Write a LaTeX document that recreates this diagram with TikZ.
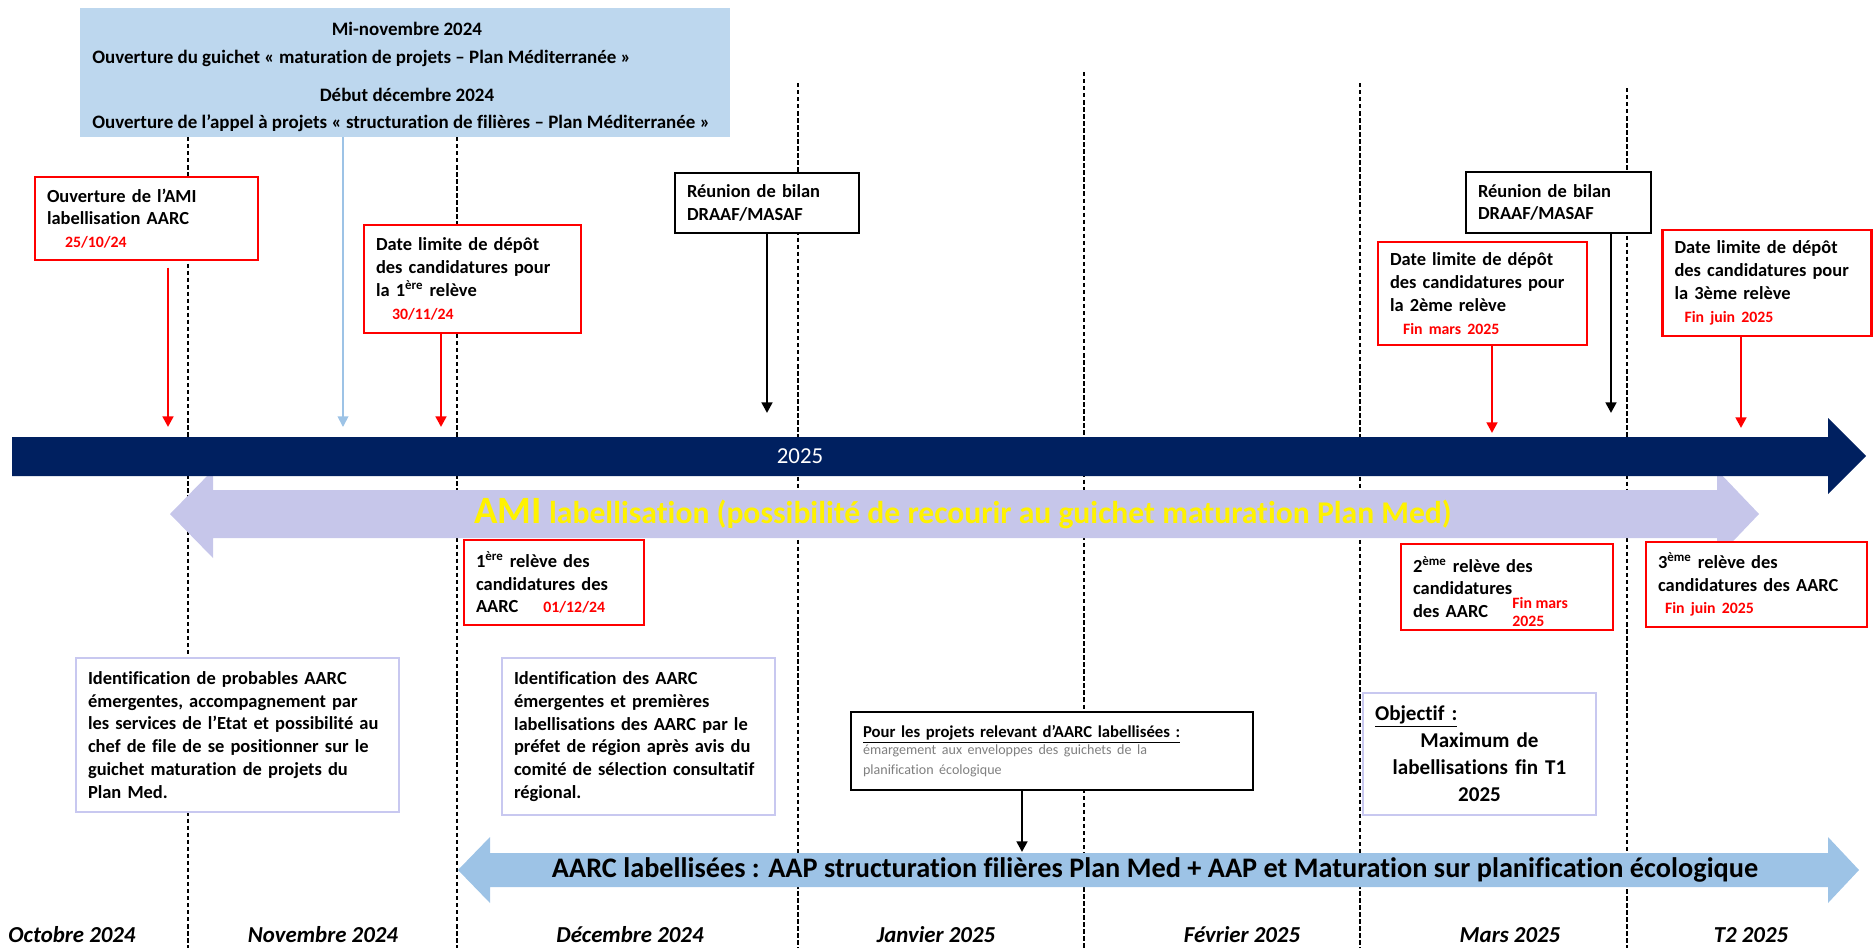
\documentclass[tikz,border=0pt]{standalone}
\usepackage{fontspec}
\setmainfont{Carlito}[Ligatures={NoCommon,NoContextual},Contextuals={NoAlternate}]
\usetikzlibrary{arrows.meta}
\definecolor{navy}{HTML}{002060}
\definecolor{lav}{HTML}{C6C6EA}
\definecolor{lavline}{HTML}{C8C8F0}
\definecolor{skyfill}{HTML}{BDD7EE}
\definecolor{skyarrow}{HTML}{9DC3E6}
\newcommand{\rdate}[1]{{\fontsize{9}{11}\selectfont\color{red}#1}}
\begin{document}
\begin{tikzpicture}[x=0.02cm, y=-0.02cm, >={Triangle[length=6pt,width=6pt]},
  every node/.style={font=\fontsize{10.5}{13}\selectfont\bfseries},
  rbox/.style={draw=red,line width=0.8pt,fill=white,align=left,inner xsep=0.24cm,inner ysep=0pt},
  rboxb/.style={rbox,line width=1.6pt},
  kbox/.style={rbox,draw=black},
  lbox/.style={rbox,draw=lavline,line width=1.3pt},
  ban/.style={font=\fontsize{10.8}{13}\selectfont\bfseries},
  mon/.style={font=\fontsize{13}{15}\selectfont\bfseries\itshape},
  dline/.style={dash pattern=on 2.5pt off 1.5pt,line width=0.6pt},
  rarr/.style={->,red,line width=1.5pt},
  karr/.style={->,black,line width=1.5pt}]
\useasboundingbox (0,0) rectangle (1874,948);
% month separators
\foreach \x/\t in {188/137,457/137,798/83,1084/72,1360/83,1627/88} \draw[dline] (\x,\t) -- (\x,948);
% top banner
\node[fill=skyfill,minimum width=13cm,minimum height=2.58cm,inner sep=0pt] (top) at (405,72.5) {};
\node[ban] (minov) at (407,29) {Mi-novembre 2024};
\node[ban,anchor=west,inner xsep=0pt] (guich) at (92,58) {Ouverture du guichet « maturation de projets – Plan Méditerranée »};
\node[ban] (debdec) at (407,95) {Début décembre 2024};
\node[ban,anchor=west,inner xsep=0pt] (aap) at (92,123) {Ouverture de l’appel à projets « structuration de filières – Plan Méditerranée »};
% bands
\fill[lav] (170,514) -- (213,470) -- (213,490) -- (1717,490) -- (1717,470) -- (1759,514) -- (1717,558) -- (1717,538) -- (213,538) -- (213,558) -- cycle;
\fill[navy] (12,437) -- (1828,437) -- (1828,418) -- (1866,456) -- (1828,494) -- (1828,476) -- (12,476) -- cycle;
\fill[skyarrow] (458,870) -- (490,837) -- (490,853) -- (1828,853) -- (1828,837) -- (1859,870) -- (1828,903) -- (1828,887) -- (490,887) -- (490,903) -- cycle;
\node[font=\fontsize{13}{15}\selectfont,text=white] (yr) at (800,456) {2025};
\node[font=\fontsize{18}{19}\selectfont\bfseries,text=yellow] (amiband) at (963,514) {{\fontsize{22}{23}\selectfont AMI} labellisation (possibilité de recourir au guichet maturation Plan Med)};
\node[font=\fontsize{16.1}{17}\selectfont\bfseries] (labband) at (1155,870) {AARC labellisées : AAP structuration filières Plan Med + AAP et Maturation sur planification écologique};
% dates above the line
\node[rbox,text width=3.98cm,minimum height=1.66cm] (open) at (146.5,218.5) {Ouverture de l’AMI\\labellisation AARC\\\hspace*{0.36cm}\rdate{25/10/24}};
\node[rboxb,text width=3.86cm,minimum height=2.16cm] (dl1) at (472.5,279) {Date limite de dépôt\\des candidatures pour\\la 1\textsuperscript{ère} relève\\\hspace*{0.32cm}\rdate{30/11/24}};
\node[kbox,text width=3.20cm,minimum height=1.2cm] (bil1) at (767,203) {Réunion de bilan\\DRAAF/MASAF};
\node[kbox,text width=3.22cm,minimum height=1.22cm] (bil2) at (1558.5,202.5) {Réunion de bilan\\DRAAF/MASAF};
\node[rboxb,text width=3.70cm,minimum height=2.06cm] (dl2) at (1482.5,293.5) {Date limite de dépôt\\des candidatures pour\\la 2ème relève\\\hspace*{0.26cm}\rdate{Fin mars 2025}};
\node[rboxb,text width=3.70cm,minimum height=2.12cm] (dl3) at (1767,283) {Date limite de dépôt\\des candidatures pour\\la 3ème relève\\\hspace*{0.2cm}\rdate{Fin juin 2025}};
\coordinate (e1) at (168,427);
\coordinate (e2) at (343,427);
\coordinate (e3) at (441,427);
\coordinate (e4) at (767,413);
\coordinate (e5) at (1611,413);
\coordinate (e6) at (1492,433);
\coordinate (e7) at (1741,428);
\draw[rarr] ([yshift=-0.14cm]open.south -| e1) -- (e1);
\draw[->,skyarrow,line width=1pt] (top.south -| e2) -- (e2);
\draw[rarr] (dl1.south -| e3) -- (e3);
\draw[karr] (bil1.south -| e4) -- (e4);
\draw[karr] (bil2.south -| e5) -- (e5);
\draw[rarr] (dl2.south -| e6) -- (e6);
\draw[rarr] (dl3.south -| e7) -- (e7);
% releves
\node[rboxb,text width=3.12cm,minimum height=1.7cm] (rel1) at (554,582.5) {1\textsuperscript{ère} relève des\\candidatures des\\AARC\hspace{0.5cm}\rdate{01/12/24}};
\node[rboxb,text width=3.76cm,minimum height=1.72cm] (rel2) at (1507,587) {2\textsuperscript{ème} relève des\\candidatures\\des AARC};
\node[font=\fontsize{9}{10.2}\selectfont\bfseries,text=red,align=left,anchor=west,inner sep=0pt] (fm2) at (1512,612) {Fin mars\\2025};
\node[rboxb,text width=3.94cm,minimum height=1.7cm] (rel3) at (1756.5,584.5) {3\textsuperscript{ème} relève des\\candidatures des AARC\\\hspace*{0.14cm}\rdate{Fin juin 2025}};
% lower notes
\node[lbox,text width=5.98cm,minimum height=3.08cm] (ident1) at (237.5,735) {Identification de probables AARC\\émergentes, accompagnement par\\les services de l’Etat et possibilité au\\chef de file de se positionner sur le\\guichet maturation de projets du\\Plan Med.};
\node[lbox,text width=4.98cm,minimum height=3.14cm] (ident2) at (638.5,736.5) {Identification des AARC\\émergentes et premières\\labellisations des AARC par le\\préfet de région après avis du\\comité de sélection consultatif\\régional.};
\node[kbox,text width=7.56cm,minimum height=1.56cm,font=\fontsize{9.5}{11.4}\selectfont\bfseries] (pour) at (1052,751) {\underline{Pour les projets relevant d’AARC labellisées :}\\{\fontsize{8}{10}\selectfont\mdseries\color{gray}émargement aux enveloppes des guichets de la\\planification écologique}};
\node[lbox,text width=4.18cm,minimum height=2.44cm,align=center,font=\fontsize{12}{15.4}\selectfont\bfseries] (obj) at (1479.5,754) {\underline{Objectif :}\hfill\null\\Maximum de\\labellisations fin T1\\2025};
\coordinate (e8) at (1022,852);
\draw[karr] (pour.south -| e8) -- (e8);
% months
\foreach \x/\m [count=\i] in {72/Octobre 2024,323/Novembre 2024,630/Décembre 2024,936/Janvier 2025,1242/Février 2025,1510/Mars 2025,1751/T2 2025} \node[mon] (m\i) at (\x,935) {\m};
\end{tikzpicture}
\end{document}
